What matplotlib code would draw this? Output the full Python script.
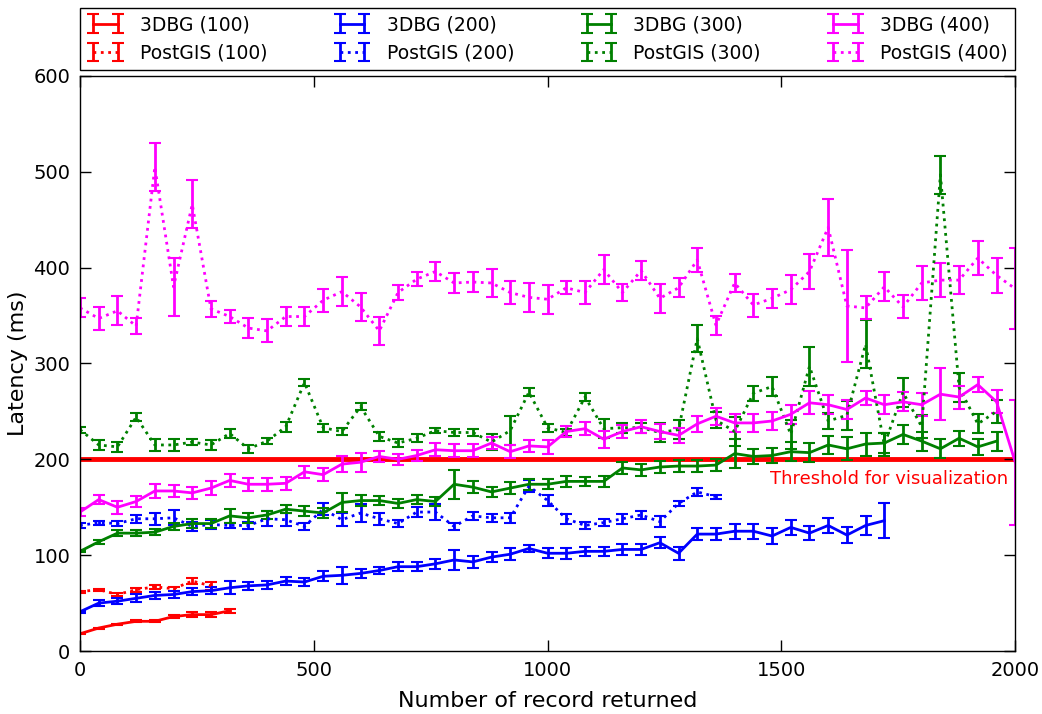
import matplotlib
matplotlib.use("Agg")
import matplotlib.pyplot as plt
import numpy as np

step = 40

# 3DBG (100) / PostGIS (100)
dbg100 = [18, 24, 28, 31, 31, 36, 38, 38, 42]
dbg100_err = [0.5, 0.5, 0.5, 1, 1, 1.5, 2.5, 3, 2]
pg100 = [62, 64, 59, 64, 67, 65, 73, 68]
pg100_err = [1, 1, 2, 2, 2, 2, 3, 4]

# 3DBG (200) / PostGIS (200)
dbg200 = [41, 50, 52, 55, 58, 59, 62, 63, 66, 68,
          69, 73, 72, 78, 79, 81, 84, 88, 88, 91,
          95, 93, 98, 101, 107, 102, 102, 104, 104, 106,
          106, 113, 102, 122, 122, 125, 125, 120, 129, 123,
          131, 121, 131, 136]
dbg200_err = [1, 3, 3, 4, 4, 4, 4, 4, 7, 4,
              4, 4, 4, 5, 9, 5, 4, 5, 5, 5,
              10, 6, 5, 6, 4, 5, 6, 5, 5, 6,
              6, 6, 7, 6, 6, 8, 8, 8, 8, 7,
              8, 8, 10, 18]
pg200 = [131, 134, 133, 138, 138, 139, 130, 132, 131, 131,
         138, 137, 130, 148, 137, 144, 138, 133, 145, 145,
         130, 141, 139, 139, 172, 157, 138, 131, 134, 138,
         142, 135, 154, 166, 161]
pg200_err = [3, 2, 3, 4, 6, 8, 5, 5, 3, 4,
             8, 7, 4, 6, 7, 9, 6, 4, 5, 8,
             4, 4, 4, 5, 6, 6, 5, 4, 4, 5,
             4, 6, 3, 4, 2]

# 3DBG (300) / PostGIS (300)
dbg300 = [104, 114, 123, 123, 124, 130, 133, 133, 141, 139,
          142, 148, 146, 144, 155, 157, 157, 154, 158, 156,
          174, 171, 166, 170, 174, 174, 177, 177, 177, 191,
          189, 192, 193, 193, 194, 206, 203, 204, 208, 207,
          215, 211, 216, 217, 226, 219, 211, 222, 213, 219]
dbg300_err = [1, 2, 3, 3, 3, 4, 5, 5, 7, 5,
              4, 4, 5, 5, 10, 6, 5, 5, 5, 5,
              15, 6, 5, 6, 6, 5, 6, 5, 6, 6,
              6, 6, 6, 6, 6, 15, 8, 8, 10, 10,
              9, 12, 12, 10, 10, 10, 10, 8, 8, 10]
pg300 = [231, 215, 213, 244, 215, 215, 218, 215, 227, 211,
         219, 234, 280, 233, 229, 255, 224, 217, 222, 230,
         228, 228, 218, 230, 270, 233, 228, 265, 232, 233,
         233, 228, 231, 326, 241, 229, 269, 276, 226, 297,
         240, 246, 320, 215, 270, 234, 497, 275, 237, 250]
pg300_err = [3, 5, 5, 4, 6, 6, 3, 5, 5, 4,
             3, 5, 4, 4, 4, 4, 5, 4, 4, 3,
             4, 4, 8, 15, 4, 4, 4, 4, 10, 5,
             5, 10, 10, 14, 8, 15, 8, 10, 15, 20,
             8, 15, 25, 12, 15, 12, 20, 15, 10, 12]

# 3DBG (400) / PostGIS (400)
dbg400 = [145, 158, 150, 156, 167, 167, 165, 170, 178, 174,
          174, 175, 187, 184, 195, 197, 203, 200, 204, 210,
          209, 209, 217, 208, 214, 213, 229, 232, 221, 229,
          234, 229, 225, 237, 245, 238, 238, 240, 247, 259,
          257, 252, 264, 257, 260, 257, 268, 265, 278, 260,
          197]
dbg400_err = [4, 5, 7, 6, 7, 6, 6, 7, 7, 7,
              7, 7, 6, 7, 8, 10, 6, 6, 6, 7,
              7, 7, 6, 7, 6, 7, 6, 7, 9, 7,
              7, 8, 8, 8, 9, 9, 9, 9, 10, 12,
              10, 10, 7, 10, 10, 12, 27, 12, 8, 12,
              65]
pg400 = [358, 347, 355, 339, 505, 380, 466, 357, 349, 337,
         334, 349, 349, 366, 375, 359, 334, 374, 388, 396,
         384, 385, 384, 374, 369, 367, 379, 374, 398, 374,
         397, 368, 379, 408, 340, 384, 361, 368, 377, 396,
         442, 360, 358, 380, 359, 384, 387, 387, 410, 392,
         378]
pg400_err = [10, 12, 15, 8, 25, 30, 25, 8, 7, 10,
             12, 10, 10, 12, 15, 15, 15, 8, 7, 10,
             10, 10, 15, 12, 15, 15, 7, 12, 15, 9,
             10, 15, 10, 13, 10, 9, 12, 10, 15, 18,
             30, 58, 12, 15, 12, 18, 18, 15, 18, 18,
             42]

threshold = 200

fig = plt.figure(figsize=(10.42, 7.14), dpi=100)
ax = fig.add_axes([0.0768, 0.0882, 0.8975, 0.8054])

series = [
    ("3DBG (100)", dbg100, dbg100_err, "r", "-"),
    ("PostGIS (100)", pg100, pg100_err, "r", ":"),
    ("3DBG (200)", dbg200, dbg200_err, "b", "-"),
    ("PostGIS (200)", pg200, pg200_err, "b", ":"),
    ("3DBG (300)", dbg300, dbg300_err, "g", "-"),
    ("PostGIS (300)", pg300, pg300_err, "g", ":"),
    ("3DBG (400)", dbg400, dbg400_err, "#ff00ff", "-"),
    ("PostGIS (400)", pg400, pg400_err, "#ff00ff", ":"),
]

handles = []
for label, vals, errs, col, ls in series:
    xs = np.arange(len(vals)) * step
    h = ax.errorbar(xs, vals, yerr=errs, color=col, ls=ls, lw=2,
                    elinewidth=2, capsize=4, capthick=1.5, label=label)
    handles.append(h)

ax.axhline(threshold, color="r", lw=3.5, zorder=1)
ax.text(1985, 180, "Threshold for visualization", color="r",
        fontsize=13, ha="right", va="center")

ax.set_xlim(0, 2000)
ax.set_ylim(0, 600)
ax.set_xticks([0, 500, 1000, 1500, 2000])
ax.set_yticks(range(0, 601, 100))
ax.tick_params(direction="in", top=True, right=True, length=8, width=1,
               labelsize=14, pad=7)
for s in ax.spines.values():
    s.set_linewidth(1)

ax.set_xlabel("Number of record returned", fontsize=16, labelpad=8)
ax.set_ylabel("Latency (ms)", fontsize=16, labelpad=4)

leg = ax.legend(handles=handles, loc="lower left",
                bbox_to_anchor=(0, 1.0104, 1, 0.1), mode="expand", ncol=4,
                borderaxespad=0, numpoints=2, fancybox=False,
                edgecolor="black", framealpha=1, fontsize=13.5,
                handlelength=1.9, handletextpad=0.9)
leg.get_frame().set_linewidth(1)

fig.savefig("out.png", dpi=100)
